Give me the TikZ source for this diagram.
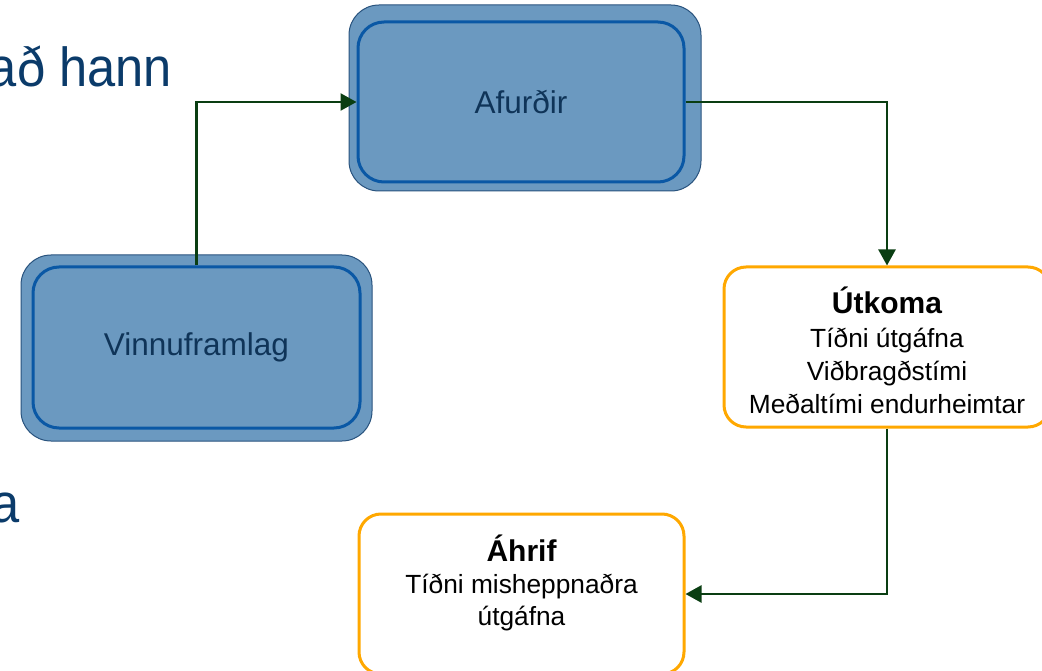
\documentclass[tikz,border=0pt]{standalone}
\usepackage{fontspec}
\setmainfont{Liberation Sans}
\newfontfamily\slidefont[FakeStretch=0.92]{Liberation Sans}
\usetikzlibrary{arrows.meta}
\definecolor{boxblue}{RGB}{107,153,192}
\definecolor{outerline}{RGB}{40,82,125}
\definecolor{innerline}{RGB}{10,88,165}
\definecolor{navytext}{RGB}{15,52,88}
\definecolor{slidetext}{RGB}{11,59,106}
\definecolor{orangeline}{RGB}{255,168,0}
\definecolor{arrowgreen}{RGB}{10,62,18}
\tikzset{
  outerbox/.style={draw=outerline, line width=1pt, fill=boxblue, rounded corners=30pt, inner sep=0pt},
  innerbox/.style={draw=innerline, line width=3pt, fill=boxblue, rounded corners=26pt, inner sep=0pt,
    text=navytext, font=\fontsize{31.5}{36}\selectfont},
  resultbox/.style={draw=orangeline, line width=3pt, fill=white, rounded corners=22pt, inner sep=0pt},
  headline/.style={anchor=base, inner sep=0pt, font=\fontsize{30}{34}\selectfont\bfseries},
  bodyline/.style={anchor=base, inner sep=0pt, font=\fontsize{26.3}{30}\selectfont},
  slide/.style={inner sep=0pt, text=slidetext, font=\slidefont\fontsize{55}{60}\selectfont},
  link/.style={draw=arrowgreen, line width=2.5pt, -{Triangle[length=16pt,width=17pt]}},
}
\begin{document}
\begin{tikzpicture}[x=1pt,y=-1pt]
\useasboundingbox (0,0) rectangle (1042,671);
\clip (0,0) rectangle (1042,671);
% background slide text
\node[slide, anchor=base east] (slideA) at (172,87) {að hann};
\node[slide, anchor=base east] (slideB) at (20,522) {a};
% blue boxes
\node[outerbox, minimum width=352pt, minimum height=186pt] (afurOuter) at (525,98) {};
\node[innerbox, minimum width=326pt, minimum height=160pt] (afur) at (521,102) {Afurðir};
\node[outerbox, minimum width=351pt, minimum height=186pt] (vinnOuter) at (196.5,348) {};
\node[innerbox, minimum width=327pt, minimum height=161pt] (vinn) at (196.5,347.5) {Vinnuframlag};
% orange boxes
\node[resultbox, minimum width=326pt, minimum height=160pt] (utkoma) at (887,347) {};
\node[headline] (utkomaH) at (887,313) {Útkoma};
\node[bodyline] (utkomaA) at (887,347) {Tíðni útgáfna};
\node[bodyline] (utkomaB) at (887,380) {Viðbragðstími};
\node[bodyline] (utkomaC) at (887,413) {Meðaltími endurheimtar};
\node[resultbox, minimum width=325pt, minimum height=160pt] (ahrif) at (521.5,594) {};
\node[headline] (ahrifH) at (521.5,561) {Áhrif};
\node[bodyline] (ahrifA) at (521.5,593) {Tíðni misheppnaðra};
\node[bodyline] (ahrifB) at (521.5,625) {útgáfna};
% connectors
\draw[link] (vinn.north) |- (afur.west);
\draw[link] (afur.east) -| (utkoma.north);
\draw[link] (utkoma.south) |- (ahrif.east);
\end{tikzpicture}
\end{document}
